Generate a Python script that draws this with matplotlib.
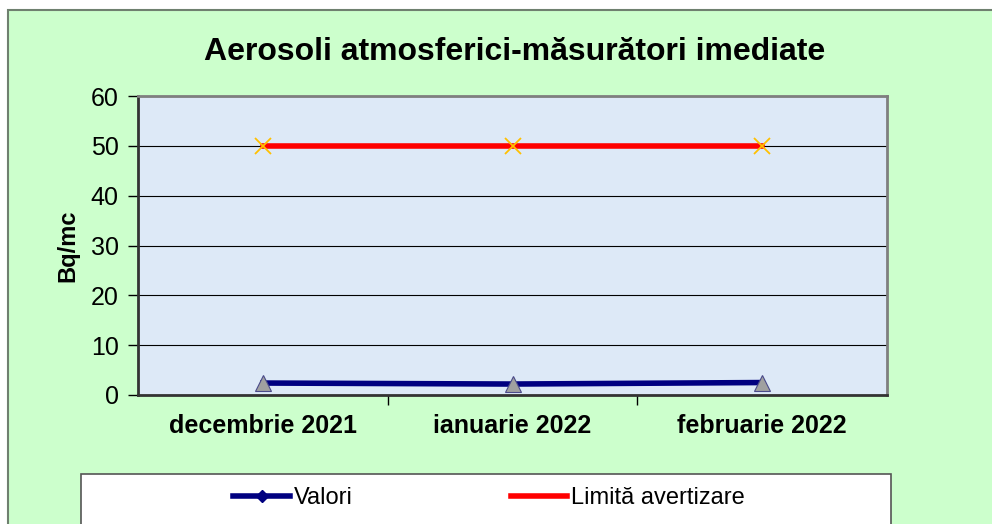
import matplotlib.pyplot as plt
from matplotlib.patches import Rectangle
from matplotlib.lines import Line2D

plt.rcParams['font.family'] = ['Liberation Sans', 'DejaVu Sans']

luni = ['decembrie 2021', 'ianuarie 2022', 'februarie 2022']
valori = [2.4, 2.2, 2.5]
limita = [50, 50, 50]
y_ticks = [0, 10, 20, 30, 40, 50, 60]

W, H = 992, 524
fig = plt.figure(figsize=(W / 100, H / 100), dpi=100)
fig.patch.set_facecolor('white')

# green chart area
fig.patches.append(Rectangle((8 / W, -0.1), 1.1, 1 - 10 / H + 0.1, transform=fig.transFigure,
                             facecolor='#ccffcc', edgecolor='#6f806f', linewidth=1.5, zorder=0))
# legend box
fig.patches.append(Rectangle((81 / W, -0.1), (891 - 81) / W, 1 - 474 / H + 0.1, transform=fig.transFigure,
                             facecolor='white', edgecolor='#555555', linewidth=1.2, zorder=1))

ax = fig.add_axes([138 / W, 1 - 395 / H, (887 - 138) / W, (395 - 96) / H])
ax.set_zorder(3)
ax.set_facecolor('#dde9f7')
x = list(range(len(luni)))

ax.plot(x, limita, color='red', linewidth=4, zorder=3)
ax.plot(x, limita, linestyle='none', marker='x', markersize=11, markeredgewidth=1.3,
        color='#ffc000', zorder=4)
ax.plot(x, valori, color='#000080', linewidth=4, zorder=3)
ax.plot(x, valori, linestyle='none', marker='^', markersize=11, markerfacecolor='#a0a0a0',
        markeredgecolor='#4a4a8a', markeredgewidth=0.8, zorder=4)

ax.set_xlim(-0.5, 2.5)
ax.set_ylim(0, 60)
ax.set_yticks(y_ticks)
ax.grid(axis='y', color='black', linewidth=0.8)
ax.set_axisbelow(True)
ax.tick_params(axis='y', labelsize=18, length=7, width=1, direction='out', pad=7)

ax.set_xticks(x)
ax.set_xticklabels(luni, fontsize=18, fontweight='bold')
ax.tick_params(axis='x', length=0, pad=14)
ax.set_xticks([0.5, 1.5], minor=True)
ax.tick_params(axis='x', which='minor', length=7, width=1, direction='out')

for s in ax.spines.values():
    s.set_color('#7f7f7f')
    s.set_linewidth(2)
ax.spines['bottom'].set_color('#333333')
ax.spines['left'].set_color('#333333')

ax.set_ylabel('Bq/mc', fontsize=17, fontweight='bold', labelpad=8)

fig.text(515 / W, 1 - 52 / H, 'Aerosoli atmosferici-măsurători imediate',
         ha='center', va='center', fontsize=23, fontweight='bold')

h1 = Line2D([], [], color='#000080', linewidth=4, marker='D', markersize=6)
h2 = Line2D([], [], color='red', linewidth=4)
fig.legend([h1, h2], ['Valori', 'Limită avertizare'], loc='center',
           bbox_to_anchor=(489 / W, 1 - 498 / H), ncol=2, frameon=False, fontsize=17,
           handlelength=2.4, handletextpad=0.15, columnspacing=6.7)

fig.savefig('out.png', dpi=100)
